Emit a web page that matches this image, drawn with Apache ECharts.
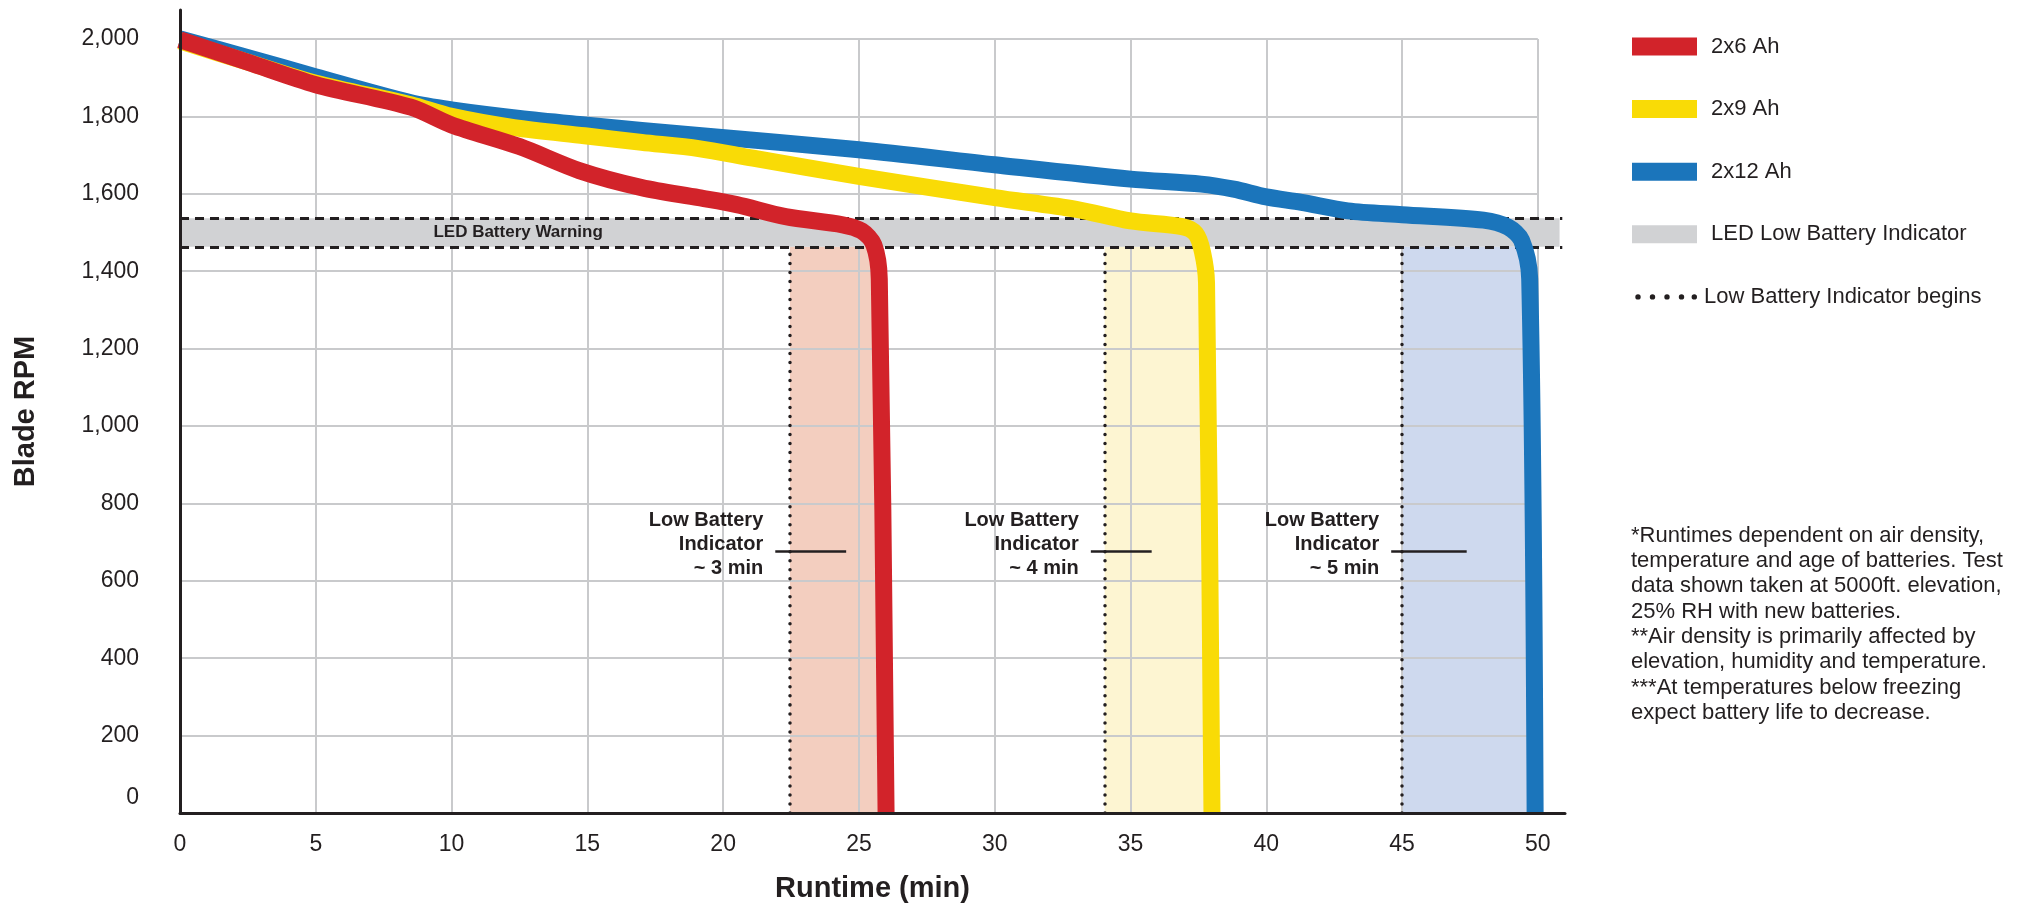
<!DOCTYPE html>
<html>
<head>
<meta charset="utf-8">
<script src="https://cdn.jsdelivr.net/npm/echarts@6/dist/echarts.min.js"></script>
<style>
html,body{margin:0;padding:0;background:#ffffff;}
#chart{width:2017px;height:903px;}
</style>
</head>
<body>
<div id="chart"></div>
<script>
// ---------------- data ----------------
const runtime2x6 = [0, 2.5, 5, 8.5, 10, 12.5, 14.7, 17, 19.1, 20.5, 22.3, 24.4, 25.1, 25.55, 25.75, 26.0];
const rpm2x6     = [1998, 1940, 1882, 1824, 1778, 1722, 1660, 1616, 1590, 1572, 1541, 1520, 1504, 1468, 1380, 0];

const runtime2x9 = [0, 2.5, 5, 8.5, 10, 12.3, 14.9, 17, 19.1, 21.1, 25, 30, 33, 35, 36.9, 37.4, 37.65, 37.8, 38.0];
const rpm2x9     = [1995, 1940, 1886, 1830, 1800, 1771, 1750, 1733, 1717, 1692, 1645, 1590, 1560, 1530, 1515, 1497, 1450, 1370, 0];

const runtime2x12 = [0, 2.5, 5, 8.5, 10, 12.5, 14.9, 17, 19.1, 25, 30, 35, 37.6, 38.8, 40, 41.3, 43, 45, 48, 48.9, 49.4, 49.7, 49.9];
const rpm2x12     = [2000, 1952, 1902, 1835, 1817, 1795, 1778, 1764, 1751, 1714, 1675, 1638, 1625, 1612, 1592, 1578, 1556, 1546, 1532, 1514, 1480, 1380, 0];

const xTicks = [0, 5, 10, 15, 20, 25, 30, 35, 40, 45, 50];
const yTicks = [0, 200, 400, 600, 800, 1000, 1200, 1400, 1600, 1800, 2000];

const ledBand = [1463, 1537];              // LED battery warning band (RPM)
const ledBandEnd = 50.8;                   // band right end (min)
const ledLabelAt = [12.45, 1500];

const indicatorBegin = [22.46, 34.05, 45.0];   // "Low Battery Indicator begins" (min)
const indicatorEnd   = [25.85, 37.85, 49.8];   // where each battery drops (min)
const indicatorText  = ['~ 3 min', '~ 4 min', '~ 5 min'];
const calloutFrom = [21.92, 33.54, 44.6];
const calloutTo   = [24.53, 35.78, 47.38];
const calloutRpm  = 677;

const seriesNames = ['2x6 Ah', '2x9 Ah', '2x12 Ah'];
const footnotes = [
  '*Runtimes dependent on air density,',
  'temperature and age of batteries. Test',
  'data shown taken at 5000ft. elevation,',
  '25% RH with new batteries.',
  '**Air density is primarily affected by',
  'elevation, humidity and temperature.',
  '***At temperatures below freezing',
  'expect battery life to decrease.'
];

// ---------------- styles ----------------
const FONT = "'Liberation Sans', Arial, sans-serif";
const INK = '#231F20';
const RED = '#D2232A', YELLOW = '#F9DB06', BLUE = '#1B75BB';
const BAND = '#D1D2D4', GRIDC = '#C9CACC';
const SHADES = ['#F3CEBF', '#FDF5D2', '#CED9EE'];

const pair = (xs, ys) => xs.map((x, i) => [x, ys[i]]);

function curve(name, xs, ys, color, z) {
  return {
    type: 'line', name: name, data: pair(xs, ys), z: z,
    symbol: 'none', showSymbol: false, smooth: 0.3,
    lineStyle: { color: color, width: 17, cap: 'butt', join: 'round' },
    itemStyle: { color: color },
    silent: true, animation: false
  };
}

const xMaxTick = xTicks[xTicks.length - 1];
const yMaxTick = yTicks[yTicks.length - 1];
const gridLines = []
  .concat(yTicks.filter(v => v > 0).map(v => [{ coord: [0, v] }, { coord: [xMaxTick, v] }]))
  .concat(xTicks.filter(v => v > 0).map(v => [{ coord: [v, 0] }, { coord: [v, yMaxTick] }]));

const DOTS = 'path://M0,0 M65,18 ' + [6, 20.5, 35, 49.5, 62.3].map(cx =>
  'M' + (cx - 2.7) + ',9 A2.7,2.7 0 1 1 ' + (cx + 2.7) + ',9 A2.7,2.7 0 1 1 ' + (cx - 2.7) + ',9 Z').join(' ');

const yRich = { z: { padding: [0, 0, 30, 0], fontSize: 23, color: INK, fontFamily: FONT } };

const option = {
  backgroundColor: '#ffffff',
  animation: false,
  textStyle: { fontFamily: FONT, color: INK },
  title: {
    text: footnotes.join('\n'),
    left: 1626, top: 518,
    textStyle: { fontSize: 22, fontWeight: 'normal', lineHeight: 25.3, color: INK, fontFamily: FONT }
  },
  legend: {
    orient: 'vertical', left: 1627, top: 30.5,
    itemWidth: 65, itemHeight: 18, itemGap: 40.6,
    icon: 'rect', selectedMode: false,
    itemStyle: { borderWidth: 0 },
    textStyle: { fontSize: 22, lineHeight: 18, color: INK, fontFamily: FONT, padding: [0, 0, 0, 9] },
    data: [
      { name: seriesNames[0] }, { name: seriesNames[1] }, { name: seriesNames[2] },
      { name: 'LED Low Battery Indicator' },
      { name: 'Low Battery Indicator begins', icon: DOTS, textStyle: { padding: [0, 0, 0, 2] } }
    ]
  },
  grid: { left: 180, right: 452, top: 10, bottom: 90, containLabel: false, outerBoundsMode: 'none' },
  xAxis: {
    type: 'value', min: 0, max: 51, interval: 5, z: 10,
    axisLine: { show: true, onZero: false, lineStyle: { color: INK, width: 3 } },
    axisTick: { show: false }, splitLine: { show: false },
    axisLabel: {
      fontSize: 23, color: INK, fontFamily: FONT, margin: 20, showMaxLabel: false,
      formatter: v => (xTicks.indexOf(v) >= 0 ? String(v) : '')
    },
    name: 'Runtime (min)', nameLocation: 'middle', nameGap: 61,
    nameTextStyle: { fontSize: 29, fontWeight: 'bold', color: INK, fontFamily: FONT }
  },
  yAxis: {
    type: 'value', min: 0, max: 2075, interval: 200, z: 10,
    axisLine: { show: true, onZero: false, lineStyle: { color: INK, width: 3 } },
    axisTick: { show: false }, splitLine: { show: false },
    axisLabel: {
      fontSize: 23, color: INK, fontFamily: FONT, margin: 41, showMaxLabel: false,
      rich: yRich,
      formatter: v => (v === 0 ? '{z|0}' : (yTicks.indexOf(v) >= 0 ? v.toLocaleString('en-US') : ''))
    },
    name: 'Blade RPM', nameLocation: 'middle', nameGap: 140,
    nameTextStyle: { fontSize: 29, fontWeight: 'bold', color: INK, fontFamily: FONT }
  },
  series: [
    { // shaded low-battery regions
      type: 'line', name: '_shade', data: [], z: 1, silent: true,
      markArea: {
        silent: true, z: 1,
        data: indicatorBegin.map((b, i) => [
          { coord: [b, 0], itemStyle: { color: SHADES[i] } },
          { coord: [indicatorEnd[i], ledBand[0]] }
        ])
      }
    },
    { // grid lines
      type: 'line', name: '_grid', data: [], z: 2, silent: true,
      markLine: {
        silent: true, z: 2, symbol: ['none', 'none'], animation: false,
        label: { show: false }, emphasis: { disabled: true },
        lineStyle: { color: GRIDC, width: 2, type: 'solid' },
        data: gridLines
      }
    },
    { // LED band
      type: 'line', name: 'LED Low Battery Indicator', data: [], z: 3, silent: true,
      itemStyle: { color: BAND }, lineStyle: { color: BAND },
      markArea: {
        silent: true, z: 3, itemStyle: { color: BAND },
        data: [[{ coord: [0, ledBand[0]] }, { coord: [ledBandEnd, ledBand[1]] }]]
      },
      markLine: {
        silent: true, z: 4, symbol: ['none', 'none'], animation: false,
        label: { show: false }, emphasis: { disabled: true },
        lineStyle: { color: INK, width: 3, type: [9, 6] },
        data: ledBand.map(v => [{ coord: [0, v] }, { coord: [ledBandEnd + 0.1, v] }])
      },
      markPoint: {
        silent: true, z: 4, symbol: 'circle', symbolSize: 1, itemStyle: { color: 'rgba(0,0,0,0)' },
        label: { show: true, position: 'inside', formatter: 'LED Battery Warning',
                 fontSize: 17, fontWeight: 'bold', color: INK, fontFamily: FONT },
        data: [{ coord: ledLabelAt }]
      }
    },
    { // dotted indicator lines
      type: 'line', name: 'Low Battery Indicator begins', data: [], z: 4, silent: true,
      itemStyle: { color: INK }, lineStyle: { color: INK },
      markLine: {
        silent: true, z: 4, symbol: ['none', 'none'], animation: false,
        label: { show: false }, emphasis: { disabled: true },
        lineStyle: { color: INK, width: 3.5, type: [0.01, 9], cap: 'round' },
        data: indicatorBegin.map(b => [{ coord: [b, 0] }, { coord: [b, ledBand[0]] }])
      }
    },
    { // callouts
      type: 'line', name: '_callout', data: [], z: 5, silent: true,
      markLine: {
        silent: true, z: 5, symbol: ['none', 'none'], animation: false, emphasis: { disabled: true },
        lineStyle: { color: INK, width: 2.5, type: 'solid' },
        label: {
          show: true, position: 'start', distance: 12, fontSize: 20, fontWeight: 'bold',
          lineHeight: 24, color: INK, fontFamily: FONT, align: 'right',
          rich: { gap: { fontSize: 2, lineHeight: 14 } }
        },
        data: calloutFrom.map((f, i) => [
          { coord: [f, calloutRpm],
            label: { formatter: 'Low Battery\nIndicator\n' + indicatorText[i] + '\n{gap| }' } },
          { coord: [calloutTo[i], calloutRpm] }
        ])
      }
    },
    curve(seriesNames[2], runtime2x12, rpm2x12, BLUE, 6),
    curve(seriesNames[1], runtime2x9, rpm2x9, YELLOW, 7),
    curve(seriesNames[0], runtime2x6, rpm2x6, RED, 8)
  ]
};

const chart = echarts.init(document.getElementById('chart'), null, { renderer: 'canvas' });
chart.setOption(option);
</script>
</body>
</html>
